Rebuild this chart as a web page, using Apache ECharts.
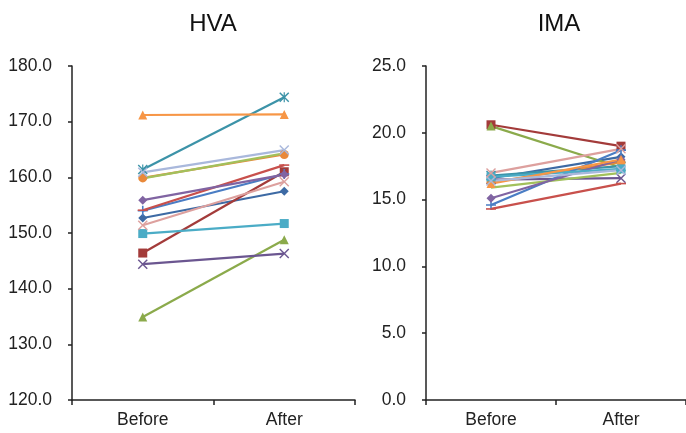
<!DOCTYPE html>
<html>
<head>
<meta charset="utf-8">
<script src="https://cdn.jsdelivr.net/npm/echarts@6/dist/echarts.min.js"></script>
<style>
  html, body { margin: 0; padding: 0; background: #fff; }
  #chart { width: 686px; height: 433px; }
</style>
</head>
<body>
<div id="chart"></div>
<script>
// categories
var periods = ['Before', 'After'];

// HVA, before / after for each subject
var hvaBefore = [152.7, 146.4, 134.9, 144.4, 161.4, 159.9, 154.0, 154.1, 159.8, 155.9, 149.9, 171.2, 160.9, 151.4];
var hvaAfter  = [157.5, 161.0, 148.8, 146.3, 174.4, 164.1, 160.6, 162.2, 164.3, 160.5, 151.7, 171.3, 164.9, 159.2];

// IMA, before / after for each subject
var imaBefore = [16.6, 20.6, 20.5, 16.5, 16.8, 16.3, 14.6, 14.3, 15.9, 15.1, 16.7, 16.2, 16.4, 17.0];
var imaAfter  = [18.2, 19.0, 17.4, 16.6, 17.5, 17.8, 18.7, 16.2, 17.0, 18.0, 17.3, 18.0, 17.2, 18.8];

var hvaTicks = { min: 120, max: 180, interval: 10 };
var imaTicks = { min: 0, max: 25, interval: 5 };

// marker shapes (excel-like)
var X = 'path://M0,1L1,0L5,4L9,0L10,1L6,5L10,9L9,10L5,6L1,10L0,9L4,5Z';
var STAR = 'path://M0,1L1,0L4.4,3.4V0H5.6V3.4L9,0L10,1L6,5L10,9L9,10L5.6,6.6V10H4.4V6.6L1,10L0,9L4,5Z';
var PLUS = 'path://M4.2,0H5.8V4.2H10V5.8H5.8V10H4.2V5.8H0V4.2H4.2Z';
var DASH = 'path://M0,4.2H10V5.8H0Z';

var colors  = ['#3D6AA4', '#A33B3A', '#8BAA4B', '#6B5690', '#3C93A8', '#E9893A', '#4A7DC4',
               '#C8504C', '#A2C05C', '#8064A2', '#4BACC6', '#F79646', '#A9B8DC', '#DDA09E'];
var symbols = ['diamond', 'rect', 'triangle', X, STAR, 'circle', PLUS,
               DASH, 'none', 'diamond', 'rect', 'triangle', X, X];
var sizes   = [9, 9, 9, 10, 10, 9, 10, 10, 0, 9, 9, 9, 10, 10];

var font = 'Liberation Sans, Arial, sans-serif';

function makeSeries(before, after, idx) {
    return before.map(function (b, i) {
        return {
            type: 'line',
            xAxisIndex: idx,
            yAxisIndex: idx,
            data: [b, after[i]],
            symbol: symbols[i],
            symbolSize: sizes[i],
            symbolKeepAspect: true,
            showSymbol: symbols[i] !== 'none',
            lineStyle: { color: colors[i], width: 2.2 },
            itemStyle: { color: colors[i] },
            animation: false
        };
    });
}

function xAxis(grid) {
    return {
        type: 'category',
        gridIndex: grid,
        data: periods,
        axisLine: { lineStyle: { color: '#222', width: 1.5 } },
        axisTick: { show: true, length: 5, lineStyle: { color: '#222', width: 1.5 } },
        axisLabel: { color: '#222', fontSize: 17.5, fontFamily: font, margin: 11 }
    };
}

function yAxis(grid, t) {
    return {
        type: 'value',
        gridIndex: grid,
        min: t.min,
        max: t.max,
        interval: t.interval,
        axisLine: { show: true, lineStyle: { color: '#222', width: 1.5 } },
        axisTick: { show: true, length: 4, lineStyle: { color: '#222', width: 1.5 } },
        splitLine: { show: false },
        axisLabel: {
            color: '#222', fontSize: 17.5, fontFamily: font, margin: 20,
            formatter: function (v) { return v.toFixed(1); }
        }
    };
}

var myChart = echarts.init(document.getElementById('chart'));

var option = {
    backgroundColor: '#fff',
    title: [
        { text: 'HVA', left: 208, top: 7, textAlign: 'center',
          textStyle: { fontSize: 24, fontWeight: 'normal', color: '#111', fontFamily: font } },
        { text: 'IMA', left: 554, top: 7, textAlign: 'center',
          textStyle: { fontSize: 24, fontWeight: 'normal', color: '#111', fontFamily: font } }
    ],
    grid: [
        { left: 72, top: 66, width: 283, height: 334 },
        { left: 426, top: 66, width: 264, height: 334 }
    ],
    xAxis: [xAxis(0), xAxis(1)],
    yAxis: [yAxis(0, hvaTicks), yAxis(1, imaTicks)],
    series: makeSeries(hvaBefore, hvaAfter, 0).concat(makeSeries(imaBefore, imaAfter, 1))
};

myChart.setOption(option);
</script>
</body>
</html>
